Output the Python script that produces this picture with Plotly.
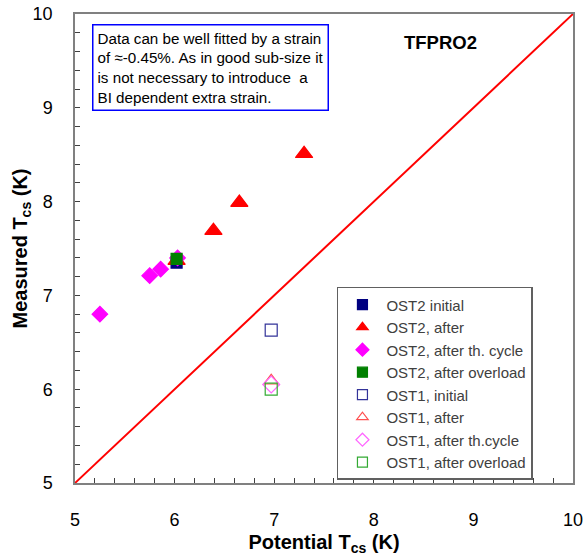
import plotly.graph_objects as go

# Data (Potential Tcs, Measured Tcs)
ost2_initial_x = [6.02]
ost2_initial_y = [7.35]
ost2_after_x = [6.02, 6.39, 6.65, 7.30]
ost2_after_y = [7.37, 7.69, 7.99, 8.51]
ost2_thcycle_x = [5.25, 5.75, 5.86, 6.03]
ost2_thcycle_y = [6.80, 7.21, 7.28, 7.40]
ost2_overload_x = [6.02]
ost2_overload_y = [7.39]
ost1_initial_x = [6.97]
ost1_initial_y = [6.63]
ost1_after_x = [6.97]
ost1_after_y = [6.09]
ost1_thcycle_x = [6.97]
ost1_thcycle_y = [6.05]
ost1_overload_x = [6.97]
ost1_overload_y = [6.00]

line_x = [5, 10]
line_y = [5, 10]

FONT = "Liberation Sans, Arial, sans-serif"

fig = go.Figure()
fig.add_trace(go.Scatter(x=line_x, y=line_y, mode="lines",
                         line=dict(color="#ff0000", width=2), showlegend=False, hoverinfo="skip"))

series = [
    ("OST2 initial", ost2_initial_x, ost2_initial_y, "square", "#000080", 11),
    ("OST2, after", ost2_after_x, ost2_after_y, "triangle-up", "#ff0000", 15),
    ("OST2, after th. cycle", ost2_thcycle_x, ost2_thcycle_y, "diamond", "#ff00ff", 12),
    ("OST2, after overload", ost2_overload_x, ost2_overload_y, "square", "#008000", 11),
    ("OST1, initial", ost1_initial_x, ost1_initial_y, "square-open", "#333399", 12),
    ("OST1, after", ost1_after_x, ost1_after_y, "triangle-up-open", "#ff5050", 13),
    ("OST1, after th.cycle", ost1_thcycle_x, ost1_thcycle_y, "diamond-open", "#ff66ff", 13),
    ("OST1, after overload", ost1_overload_x, ost1_overload_y, "square-open", "#33aa33", 12),
]
for i, (name, xs, ys, sym, col, sz) in enumerate(series):
    fig.add_trace(go.Scatter(x=xs, y=ys, mode="markers", name=name, legendgroup=f"g{i}",
                             showlegend=False,
                             marker=dict(symbol=sym, color=col, size=sz,
                                         line=dict(color=col, width=1.2))))
# legend entries with smaller symbols, as in the reference
for i, (name, xs, ys, sym, col, sz) in enumerate(series):
    fig.add_trace(go.Scatter(x=[None], y=[None], mode="markers", name=name, legendgroup=f"g{i}",
                             marker=dict(symbol=sym, color=col, size=10,
                                         line=dict(color=col, width=1.2))))

axis_common = dict(range=[5, 10], dtick=1, showgrid=False, zeroline=False, automargin=False,
                   showline=True, linecolor="#808080", linewidth=1.5, mirror=True,
                   ticks="inside", ticklen=5, tickcolor="#404040",
                   minor=dict(dtick=0.2, ticks="inside", ticklen=5, tickcolor="#404040"),
                   tickfont=dict(family=FONT, size=18, color="#000000"))

fig.update_xaxes(**axis_common, ticklabelstandoff=20,
                 title=dict(text="<b>Potential T<sub>cs</sub> (K)</b>", standoff=13,
                            font=dict(family=FONT, size=20, color="#000000")))
fig.update_yaxes(**axis_common, ticklabelstandoff=17,
                 title=dict(text="<b>Measured T<sub>cs</sub> (K)</b>", standoff=0,
                            font=dict(family=FONT, size=20, color="#000000")))

fig.add_annotation(xref="paper", yref="paper", x=0.035, y=0.979, xanchor="left", yanchor="top",
                   align="left", showarrow=False,
                   text="Data can be well fitted by a strain<br>of ≈-0.45%. As in good sub-size it<br>"
                        "is not necessary to introduce  a<br>BI dependent extra strain.",
                   font=dict(family=FONT, size=15.2, color="#000000"),
                   bordercolor="#0000ff", borderwidth=1.5, borderpad=4, bgcolor="#ffffff")
fig.add_annotation(xref="paper", yref="paper", x=0.733, y=0.94, xanchor="center", yanchor="middle",
                   showarrow=False, text="<b>TFPRO2</b>",
                   font=dict(family=FONT, size=18.5, color="#000000"))

fig.update_layout(
    width=584, height=556,
    margin=dict(l=75, r=11, t=14, b=73),
    paper_bgcolor="#ffffff", plot_bgcolor="#ffffff",
    legend=dict(x=0.526, y=0.418, xanchor="left", yanchor="top",
                bgcolor="#ffffff", bordercolor="#606060", borderwidth=1.5,
                font=dict(family=FONT, size=15, color="#404040"),
                itemwidth=38, tracegroupgap=0),
)

fig.write_html("out.html")
